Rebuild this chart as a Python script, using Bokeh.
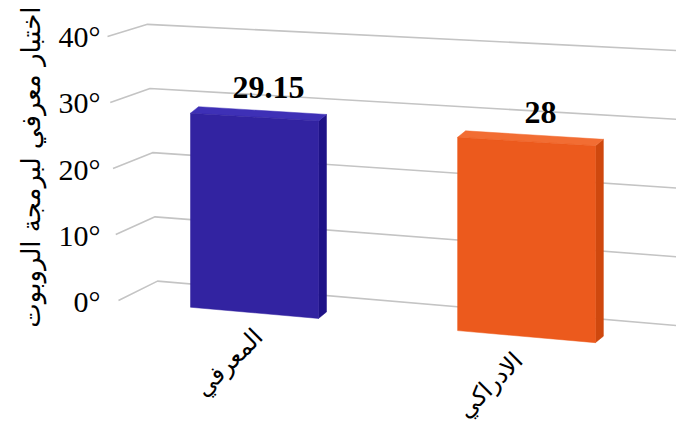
import math
from bokeh.plotting import figure
from bokeh.models import Range1d, FixedTicker, Title
from bokeh.core.properties import value
from bokeh.embed import file_html
from bokeh.resources import INLINE

# ---------------- data ----------------
categories = ["المعرفي", "الادراكي"]
scores = [29.15, 28]
score_labels = ["29.15", "28"]
y_ticks = [0, 10, 20, 30, 40]
y_tick_labels = ["0°", "10°", "20°", "30°", "40°"]
axis_title = "اختبار معرفي لبرمجة الروبوت"

front_colors = ["#3223A1", "#EC5A1D"]
top_colors = ["#3E30B6", "#F26D33"]
side_colors = ["#1E1287", "#CF480E"]

# ---------------- layout / perspective (pixels) ----------------
W, H = 676, 434
LEFT = 104                      # px used by the value axis + title
X0, X1 = LEFT, W
Y_ZERO, PX_UNIT = 301.0, 6.625  # value axis: y of 0 and px per unit


def yd(Y):
    """screen y -> value-axis data units"""
    return (Y_ZERO - Y) / PX_UNIT


v_top, v_bot = yd(0), yd(H)


def wall_y(x, v):
    a = 280 + (x - 150) * (45 / 526)
    b = 6.4 + (x - 150) * (0.475 / 526)
    return a - v * b


def floor_y(x):
    return 307 + 0.0875 * (x - 193)


def unit_k(x):
    return 6.655 + 0.00092 * (x - 188)


def top_y(x, h):
    return floor_y(x) - h * unit_k(x)


DX, DY = 8, -6.5

p = figure(width=W, height=H, output_backend="svg", toolbar_location=None,
           x_range=Range1d(X0, X1), y_range=Range1d(v_bot, v_top),
           x_axis_location=None, min_border_left=LEFT, min_border_right=0,
           min_border_top=0, min_border_bottom=0)
p.outline_line_color = None
p.grid.visible = False
p.background_fill_color = "white"
p.border_fill_color = "white"

ax = p.yaxis[0]
ax.ticker = FixedTicker(ticks=y_ticks)
ax.major_label_overrides = {t: l for t, l in zip(y_ticks, y_tick_labels)}
ax.axis_line_color = None
ax.major_tick_line_color = None
ax.minor_tick_line_color = None
ax.major_tick_out = 0
ax.major_label_standoff = 4
ax.major_label_text_font = "Liberation Serif"
ax.major_label_text_font_size = "30px"
ax.major_label_text_color = "#000000"

title = Title(text=axis_title, align="right", offset=6, vertical_align="top",
              text_font="DejaVu Sans", text_font_size="26px",
              text_font_style="normal", text_color="#000000", standoff=16)
p.add_layout(title, "left")

# gridlines (side wall + back wall)
gx, gy = [], []
for v in y_ticks:
    xa, ya = 118 - 0.275 * v, 300 - 6.6 * v
    xb = 157 - 0.25 * v
    xs = [xa, xb, 676]
    ys = [ya, wall_y(xb, v), wall_y(676, v)]
    gx.append(xs)
    gy.append([yd(y) for y in ys])
p.multi_line(gx, gy, line_color="#C4C4C4", line_width=1.6)

# bars
fx, fy, tx, ty, sx, sy = [], [], [], [], [], []
lab_x, lab_y, cat_x, cat_y = [], [], [], []
for i, h in enumerate(scores):
    c = 254 + 272 * i
    hw = 64 + 0.018 * (c - 254)
    xl, xr = c - hw, c + hw
    fx.append([xl, xr, xr, xl])
    fy.append([yd(floor_y(xl)), yd(floor_y(xr)), yd(top_y(xr, h)), yd(top_y(xl, h))])
    tx.append([xl, xr, xr + DX, xl + DX])
    ty.append([yd(top_y(xl, h)), yd(top_y(xr, h)), yd(top_y(xr, h) + DY), yd(top_y(xl, h) + DY)])
    sx.append([xr, xr + DX, xr + DX, xr])
    sy.append([yd(floor_y(xr)), yd(floor_y(xr) + DY), yd(top_y(xr, h) + DY), yd(top_y(xr, h))])
    lab_x.append(c + 14)
    lab_y.append(yd(top_y(c, h) + DY - 23))
    cat_x.append(c + 4 - 0.044 * (c - 254))
    cat_y.append(yd(floor_y(c) + 20))

p.patches(sx, sy, fill_color=side_colors, line_color=side_colors, line_width=0.5)
p.patches(tx, ty, fill_color=top_colors, line_color=top_colors, line_width=0.5)
p.patches(fx, fy, fill_color=front_colors, line_color=front_colors, line_width=0.5)

p.text(x=lab_x, y=lab_y, text=score_labels, text_align="center",
       text_baseline="alphabetic", text_font=value("Liberation Serif"),
       text_font_size="32px", text_font_style="bold", text_color="#000000")

p.text(x=cat_x, y=cat_y, text=categories, angle=math.pi / 4,
       text_align="right", text_baseline="middle",
       text_font=value("DejaVu Sans"),
       text_font_size="24px", text_color="#000000")

open("out.html", "w").write(file_html(p, INLINE))
